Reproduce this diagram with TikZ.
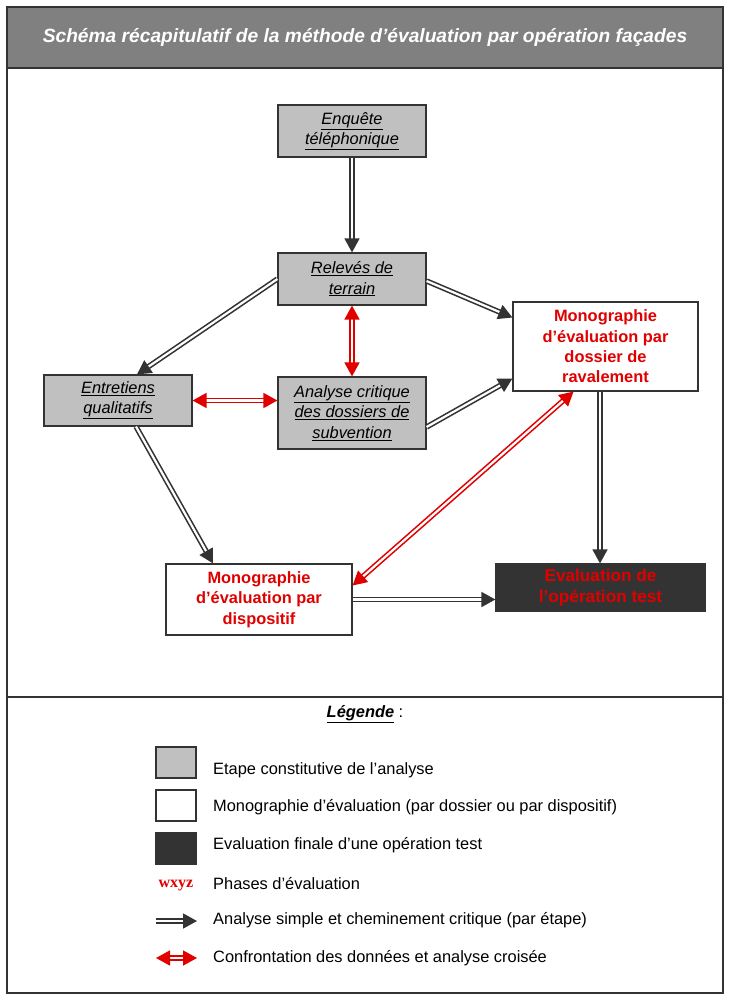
\documentclass[tikz,border=0pt]{standalone}
\usepackage{fontspec}
\setmainfont{Liberation Sans}
\newfontfamily\serifb{Liberation Serif}
\usetikzlibrary{arrows.meta,calc}
\definecolor{boxgray}{HTML}{C0C0C0}
\definecolor{edgegray}{HTML}{333333}
\definecolor{titlegray}{HTML}{808080}
\definecolor{darkbox}{HTML}{333333}
\definecolor{myred}{HTML}{E00000}
\begin{document}
\begin{tikzpicture}[x=1pt,y=-1pt,
  stepbox/.style={draw=edgegray,line width=1.2pt,fill=boxgray,minimum width=148pt,inner sep=0pt,align=center,font=\fontsize{16.4}{20.3}\selectfont\itshape},
  monobox/.style={draw=edgegray,line width=1.2pt,fill=white,inner sep=0pt,align=center,text=myred,font=\fontsize{16.4}{20.3}\selectfont\bfseries},
  flow/.style={draw=edgegray,double=white,double distance=2.2pt,line width=1.6pt,-{Triangle[length=14pt,width=15pt]}},
  cross/.style={draw=myred,double=white,double distance=2.2pt,line width=1.6pt,{Triangle[length=14pt,width=15pt]}-{Triangle[length=14pt,width=15pt]}},
  legtxt/.style={anchor=west,inner sep=0pt,font=\fontsize{16.4}{19}\selectfont},
  legsq/.style={draw=edgegray,line width=1.2pt,minimum width=40pt,minimum height=31pt,inner sep=0pt}]
\useasboundingbox (0,0) rectangle (730,1000);
\fill[white] (0,0) rectangle (730,1000);
% frames
\node[draw=edgegray,line width=1.2pt,fill=titlegray,minimum width=716pt,minimum height=61pt,inner sep=0pt,text=white,font=\fontsize{19.2}{23}\selectfont\bfseries\itshape] (title) at (365,37.5) {Schéma récapitulatif de la méthode d’évaluation par opération façades};
\node[draw=edgegray,line width=1.2pt,minimum width=716pt,minimum height=629pt,inner sep=0pt] (mainframe) at (365,382.5) {};
\node[draw=edgegray,line width=1.2pt,minimum width=716pt,minimum height=296pt,inner sep=0pt] (legframe) at (365,845) {};
% nodes
\node[stepbox,minimum height=52pt] (enq) at (352,131) {\underline{Enquête}\\\underline{téléphonique}};
\node[stepbox,minimum height=52pt] (rel) at (352,279) {\underline{Relevés de}\\\underline{terrain}};
\node[stepbox,minimum height=51pt] (ent) at (118,400.5) {\underline{Entretiens}\\\underline{qualitatifs}};
\node[stepbox,minimum height=72pt] (ana) at (352,413) {\underline{Analyse critique}\\\underline{des dossiers de}\\\underline{subvention}};
\node[monobox,minimum width=185pt,minimum height=89pt] (mdos) at (605.5,346.5) {Monographie\\d’évaluation par\\dossier de\\ravalement};
\node[monobox,minimum width=186pt,minimum height=71pt] (mdisp) at (259,599.5) {Monographie\\d’évaluation par\\dispositif};
\node[monobox,fill=darkbox,font=\fontsize{17.2}{21}\selectfont\bfseries,minimum width=209pt,minimum height=47pt] (eval) at (600.5,587.5) {Evaluation de\\l’opération test};
% connectors
\draw[flow] (enq.south) -- (rel.north);
\draw[flow] (rel.west) -- ([xshift=19pt]ent.north);
\draw[flow] ([yshift=-2pt]rel.east) -- ([yshift=29pt]mdos.west);
\draw[flow] ([yshift=-14pt]ana.east) -- ([yshift=-32pt]mdos.west);
\draw[flow] ([xshift=18pt]ent.south) -- ([xshift=-46pt]mdisp.north);
\draw[flow] ([xshift=-5.5pt]mdos.south) -- ([xshift=-0.5pt]eval.north);
\draw[flow] (mdisp.east) -- (mdisp.east -| eval.west);
\draw[cross] (rel.south) -- (ana.north);
\draw[cross] (ent.east) -- (ent.east -| ana.west);
\draw[cross] ([xshift=-32pt]mdos.south) -- ([yshift=14pt]mdisp.east);
% legend
\node[inner sep=0pt,font=\fontsize{16.4}{19}\selectfont] (legtitle) at (365,714) {\textbf{\textit{\underline{Légende}}} :};
\node[legsq,fill=boxgray] (sq1) at (176,762.5) {};
\node[legsq,fill=white] (sq2) at (176,805.5) {};
\node[legsq,fill=darkbox] (sq3) at (176,848.5) {};
\node[legtxt] (t1) at (213,770) {Etape constitutive de l’analyse};
\node[legtxt] (t2) at (213,807) {Monographie d’évaluation (par dossier ou par dispositif)};
\node[legtxt] (t3) at (213,845) {Evaluation finale d’une opération test};
\node[inner sep=0pt,text=myred,font=\fontsize{16}{18}\selectfont\serifb\bfseries] (wxyz) at (176,886) {wxyz};
\node[legtxt] (t4) at (213,884) {Phases d’évaluation};
\coordinate (a1s) at (156,921);
\coordinate (a1e) at (197,921);
\draw[flow] (a1s) -- (a1e);
\node[legtxt] (t5) at (213,920) {Analyse simple et cheminement critique (par étape)};
\coordinate (a2s) at (156,958);
\coordinate (a2e) at (197,958);
\draw[cross] (a2s) -- (a2e);
\node[legtxt] (t6) at (213,958) {Confrontation des données et analyse croisée};
\end{tikzpicture}
\end{document}
